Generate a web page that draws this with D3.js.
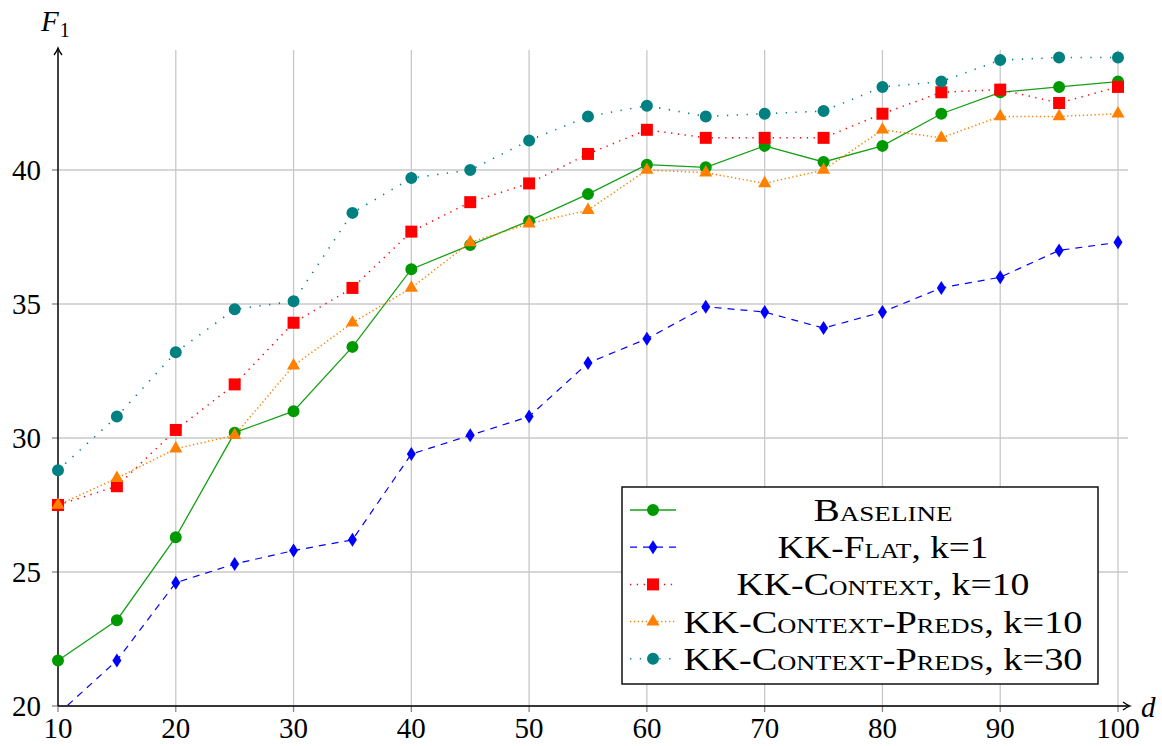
<!DOCTYPE html>
<html><head><meta charset="utf-8">
<script src="https://cdn.jsdelivr.net/npm/d3@7"></script>
<style>
body{margin:0;background:#fff;}
text{font-family:"Liberation Serif","DejaVu Serif",serif;fill:#000;}
</style></head>
<body><svg id="c" width="1162" height="746"></svg>
<script>
const xValues=[10,15,20,25,30,35,40,45,50,55,60,65,70,75,80,85,90,95,100];
const baseline=[21.7,23.2,26.3,30.2,31.0,33.4,36.3,37.2,38.1,39.1,40.2,40.1,40.9,40.3,40.9,42.1,42.9,43.1,43.3];
const kkFlat=[19.7,21.7,24.6,25.3,25.8,26.2,29.4,30.1,30.8,32.8,33.7,34.9,34.7,34.1,34.7,35.6,36.0,37.0,37.3];
const kkContext=[27.5,28.2,30.3,32.0,34.3,35.6,37.7,38.8,39.5,40.6,41.5,41.2,41.2,41.2,42.1,42.9,43.0,42.5,43.1];
const kkPreds10=[27.5,28.5,29.6,30.1,32.7,34.3,35.6,37.3,38.0,38.5,40.0,39.9,39.5,40.0,41.5,41.2,42.0,42.0,42.1];
const kkPreds30=[28.8,30.8,33.2,34.8,35.1,38.4,39.7,40.0,41.1,42.0,42.4,42.0,42.1,42.2,43.1,43.3,44.1,44.2,44.2];
const xTicks=[10,20,30,40,50,60,70,80,90,100];
const yTicks=[20,25,30,35,40];
const seriesNames=[["Baseline",""],["KK-Flat",", k=1"],["KK-Context",", k=10"],["KK-Context-Preds",", k=10"],["KK-Context-Preds",", k=30"]];
const legendWidths=[139,211,293,399,399];

const svg=d3.select("#c");
const x=d3.scaleLinear().domain([10,100]).range([58,1118]);
const y=d3.scaleLinear().domain([20,40]).range([706,170]);
const xEnd=x.invert(1128), yEnd=y.invert(50);

// grid
const g=svg.append("g");
g.selectAll("line.v").data(xTicks).join("line").attr("x1",d=>x(d)).attr("x2",d=>x(d))
 .attr("y1",y(20)).attr("y2",y(yEnd)).attr("stroke","#c8c8c8").attr("stroke-width",1.3);
g.selectAll("line.h").data(yTicks).join("line").attr("x1",x(10)).attr("x2",x(xEnd))
 .attr("y1",d=>y(d)).attr("y2",d=>y(d)).attr("stroke","#c8c8c8").attr("stroke-width",1.3);
// tick marks
g.selectAll("line.yt").data(yTicks).join("line").attr("x1",x(10)-6).attr("x2",x(10))
 .attr("y1",d=>y(d)).attr("y2",d=>y(d)).attr("stroke","#888").attr("stroke-width",1.3);
g.selectAll("line.xt").data(xTicks).join("line").attr("x1",d=>x(d)).attr("x2",d=>x(d))
 .attr("y1",y(20)).attr("y2",y(20)+6).attr("stroke","#888").attr("stroke-width",1.3);
// tick labels
g.selectAll("text.yl").data(yTicks).join("text").attr("x",x(10)-17).attr("y",d=>y(d)+10)
 .attr("text-anchor","end").attr("font-size",29).text(d=>d);
g.selectAll("text.xl").data(xTicks).join("text").attr("x",d=>x(d)).attr("y",y(20)+32)
 .attr("text-anchor","middle").attr("font-size",29).text(d=>d);

// axes with arrows
svg.append("line").attr("x1",x(10)).attr("x2",x(10)).attr("y1",y(20)).attr("y2",y(yEnd)-1).attr("stroke","#000").attr("stroke-width",1.4);
svg.append("line").attr("x1",x(10)).attr("x2",x(xEnd)+1).attr("y1",y(20)).attr("y2",y(20)).attr("stroke","#000").attr("stroke-width",1.4);
const ax=x(10), ay=y(yEnd)-2;
svg.append("path").attr("d",`M${ax-4},${ay+7} Q${ax-1},${ay+3} ${ax},${ay} Q${ax+1},${ay+3} ${ax+4},${ay+7}`).attr("fill","none").attr("stroke","#000").attr("stroke-width",1.3);
const bx=x(xEnd)+2, by=y(20);
svg.append("path").attr("d",`M${bx-7},${by-4} Q${bx-3},${by-1} ${bx},${by} Q${bx-3},${by+1} ${bx-7},${by+4}`).attr("fill","none").attr("stroke","#000").attr("stroke-width",1.3);
// axis labels
const f1=svg.append("text").attr("x",41).attr("y",31).attr("font-size",29).attr("font-style","italic");
f1.append("tspan").text("F");
f1.append("tspan").attr("font-style","normal").attr("font-size",20).attr("dy",6).attr("dx",1).text("1");
svg.append("text").attr("x",1141).attr("y",717).attr("font-size",29).attr("font-style","italic").text("d");

// clip
svg.append("defs").append("clipPath").attr("id","clip").append("rect")
 .attr("x",x(10)-8).attr("y",y(yEnd)-8).attr("width",x(xEnd)-x(10)+16).attr("height",y(20)-y(yEnd)+8);

const series=[
 {vals:baseline,color:"#009a00",line:"#16a016",dash:null,w:1.3,mark:"circle"},
 {vals:kkFlat,color:"#0000ff",line:"#0000ff",dash:"7,6",w:1.2,mark:"diamond"},
 {vals:kkContext,color:"#ff0000",line:"#ff0000",dash:"1.3,5.5",w:1.5,mark:"square"},
 {vals:kkPreds10,color:"#ff8000",line:"#ff8000",dash:"1.3,2.6",w:1.5,mark:"triangle"},
 {vals:kkPreds30,color:"#008080",line:"#008080",dash:"1.3,8.5",w:1.6,mark:"circle"}
];
const symMap={circle:d3.symbolCircle,square:d3.symbolSquare,triangle:d3.symbolTriangle,diamond:d3.symbolDiamond};
const symSize={circle:113,square:144,triangle:75,diamond:55};
function drawMarker(sel,s,cx,cy){
  if(s.mark==="diamond"){
    sel.append("path").attr("d",`M${cx},${cy-7} L${cx+4.5},${cy} L${cx},${cy+7} L${cx-4.5},${cy} Z`).attr("fill",s.color);
  } else {
    sel.append("path").attr("transform",`translate(${cx},${cy})`)
     .attr("d",d3.symbol().type(symMap[s.mark]).size(symSize[s.mark])()).attr("fill",s.color);
  }
}
const plot=svg.append("g").attr("clip-path","url(#clip)");
const lineGen=d3.line().x((d,i)=>x(xValues[i])).y(d=>y(d));
series.forEach(s=>{
  plot.append("path").datum(s.vals).attr("d",lineGen).attr("fill","none").attr("stroke",s.line)
   .attr("stroke-width",s.w).attr("stroke-dasharray",s.dash);
});
series.forEach(s=>{
  s.vals.forEach((v,i)=>{ if(v>=20) drawMarker(plot,s,x(xValues[i]),y(v)); });
});

// legend
const L=svg.append("g");
L.append("rect").attr("x",622).attr("y",487).attr("width",476).attr("height",197).attr("fill","#fff").attr("stroke","#000").attr("stroke-width",1.4);
series.forEach((s,i)=>{
  const cy=510+i*37.2;
  L.append("line").attr("x1",630).attr("x2",676).attr("y1",cy).attr("y2",cy).attr("stroke",s.line)
   .attr("stroke-width",s.w).attr("stroke-dasharray",s.dash);
  drawMarker(L,s,653,cy);
  const t=L.append("text").attr("x",883).attr("y",cy+11).attr("text-anchor","middle").attr("font-size",32)
   .attr("textLength",legendWidths[i]).attr("lengthAdjust","spacingAndGlyphs");
  t.append("tspan").attr("font-variant","small-caps").text(seriesNames[i][0]);
  t.append("tspan").text(seriesNames[i][1]);
});
</script></body></html>
